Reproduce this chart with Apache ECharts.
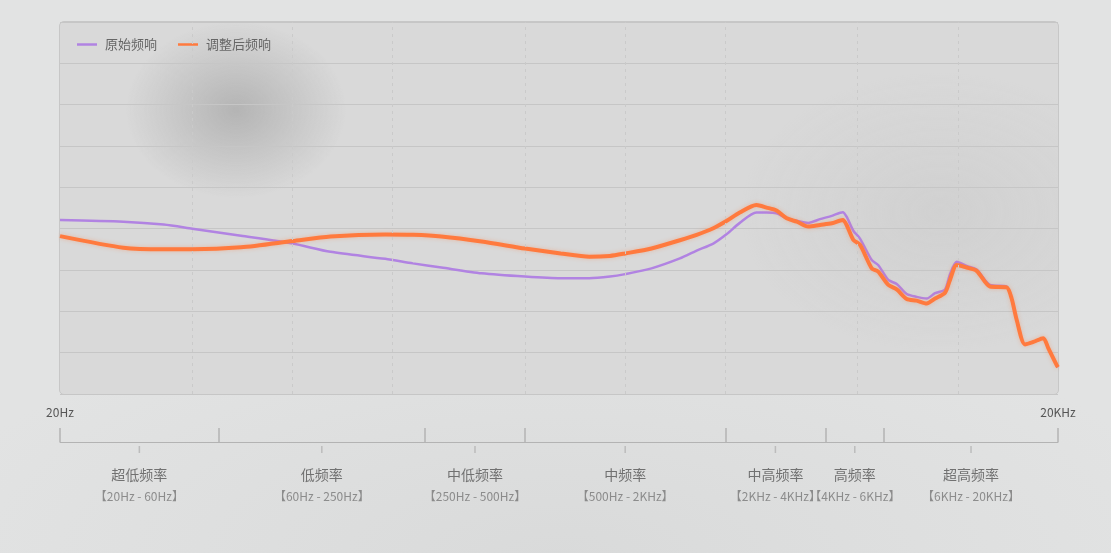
<!DOCTYPE html>
<html lang="zh-CN">
<head>
    <meta charset="UTF-8">
    <title>频响曲线</title>
    <style>
        html, body { margin: 0; padding: 0; background: #e1e2e2; }
        .wrap {
            position: relative; width: 1111px; height: 553px; overflow: hidden;
            background: radial-gradient(ellipse 650px 260px at 560px 560px, #d9dada, rgba(217,218,218,0)), #e2e3e3;
        }
        .panel {
            position: absolute; left: 59px; top: 21px; width: 998px; height: 372px;
            border: 1px solid #c7c7c7; border-radius: 5px; background: #d9d9d9;
        }
        .smudge {
            position: absolute; left: 60px; top: 22px; width: 998px; height: 372px; border-radius: 5px;
            background:
                radial-gradient(ellipse 110px 88px at 176px 88px, rgba(150,150,150,0.55), rgba(150,150,150,0)),
                radial-gradient(ellipse 200px 140px at 880px 190px, rgba(190,190,190,0.3), rgba(190,190,190,0));
        }
        #main { position: absolute; left: 0; top: 0; width: 1111px; height: 553px; }
    </style>
</head>
<body>
<div class="wrap">
    <div class="panel"></div>
    <div class="smudge"></div>
    <div id="main"></div>
</div>
<script src="https://cdn.jsdelivr.net/npm/echarts@6/dist/echarts.min.js"></script>
<script type="text/javascript">
    // 采样频率 (Hz)
    var freqs = [20, 31, 41, 50, 70, 100, 130, 190, 230, 280, 370, 500, 640, 780, 900, 1000, 1200, 1460, 1640, 1840,
        2020, 2210, 2480, 2660, 2850, 3060, 3280, 3550, 3850, 4180, 4510, 4630, 4850, 5080, 5510, 5760, 6180, 6550,
        7020, 7520, 8060, 8540, 9150, 9470, 9920, 10630, 11390, 12490, 14020, 14510, 15030, 15910, 16850, 18060,
        18700, 19820, 20000];
    // 原始频响
    var origResp = [4.21, 4.17, 4.10, 4.00, 3.83, 3.64, 3.44, 3.27, 3.16, 3.06, 2.92, 2.84, 2.80, 2.80, 2.84, 2.90,
        3.04, 3.28, 3.47, 3.64, 3.87, 4.14, 4.39, 4.39, 4.37, 4.25, 4.19, 4.14, 4.23, 4.31, 4.40, 4.29, 3.95, 3.76,
        3.24, 3.12, 2.76, 2.66, 2.42, 2.35, 2.31, 2.44, 2.53, 2.90, 3.20, 3.10, 3.01, 2.64, 2.60, 2.31, 1.79, 1.20,
        1.26, 1.35, 1.11, 0.70, 0.65];
    // 调整后频响
    var adjResp = [3.82, 3.54, 3.50, 3.50, 3.55, 3.70, 3.81, 3.86, 3.85, 3.81, 3.69, 3.52, 3.40, 3.32, 3.34, 3.40,
        3.52, 3.72, 3.85, 4.01, 4.19, 4.39, 4.57, 4.51, 4.44, 4.25, 4.17, 4.05, 4.09, 4.13, 4.21, 4.09, 3.73, 3.61,
        3.04, 2.96, 2.64, 2.53, 2.30, 2.26, 2.19, 2.31, 2.45, 2.76, 3.12, 3.06, 2.98, 2.60, 2.58, 2.31, 1.79, 1.20,
        1.26, 1.35, 1.11, 0.70, 0.65];
    // 图中虚线竖线
    var gridFreqs = [50, 100, 200, 500, 1000, 2000, 5000, 10000];
    // 频段
    var bandNames = ['超低频率', '低频率', '中低频率', '中频率', '中高频率', '高频率', '超高频率'];
    var bandRanges = ['【20Hz - 60Hz】', '【60Hz - 250Hz】', '【250Hz - 500Hz】', '【500Hz - 2KHz】',
        '【2KHz - 4KHz】', '【4KHz - 6KHz】', '【6KHz - 20KHz】'];
    var bandEdges = [20, 60, 250, 500, 2000, 4000, 6000, 20000];

    var myChart = echarts.init(document.getElementById('main'));

    var bandPoints = [];
    for (var i = 0; i < bandNames.length; i++) {
        bandPoints.push({
            value: [Math.sqrt(bandEdges[i] * bandEdges[i + 1]), 0],
            name: bandNames[i],
            range: bandRanges[i]
        });
    }

    var option = {
        textStyle: { fontFamily: 'Noto Sans CJK SC' },
        animation: false,
        legend: {
            left: 77,
            top: 38,
            padding: 0,
            itemWidth: 20,
            itemHeight: 2.5,
            itemGap: 21,
            textStyle: { color: '#666', fontSize: 13, padding: [0, 0, 0, 3] },
            data: [
                { name: '原始频响', icon: 'rect' },
                { name: '调整后频响', icon: 'rect' }
            ]
        },
        grid: [
            { left: 60, top: 22, width: 998, height: 372 },
            { left: 60, top: 428, width: 998, height: 14 }
        ],
        xAxis: [
            {
                type: 'log', logBase: 10, min: 20, max: 20000, gridIndex: 0,
                axisLine: { show: false }, axisTick: { show: false }, splitLine: { show: false },
                axisLabel: {
                    showMinLabel: true, showMaxLabel: true, margin: 12,
                    color: '#555', fontSize: 12,
                    formatter: function (v) {
                        if (Math.abs(v - 20) < 1) return '20Hz';
                        if (Math.abs(v - 20000) < 10) return '20KHz';
                        return '';
                    }
                }
            },
            {
                type: 'log', logBase: 10, min: 20, max: 20000, gridIndex: 1,
                axisLine: { show: true, lineStyle: { color: '#b3b3b3', width: 1 } },
                axisTick: { show: false }, axisLabel: { show: false }, splitLine: { show: false }
            }
        ],
        yAxis: [
            {
                type: 'value', min: 0, max: 9, interval: 1, gridIndex: 0,
                axisLine: { show: false }, axisTick: { show: false }, axisLabel: { show: false },
                splitLine: { lineStyle: { color: '#c6c6c6', width: 1 } }
            },
            {
                type: 'value', min: 0, max: 1, gridIndex: 1, show: false
            }
        ],
        series: [
            {
                name: '原始频响',
                type: 'line',
                symbol: 'none',
                smooth: 0.25,
                color: '#b183e2',
                lineStyle: { width: 2.5, color: '#b183e2' },
                data: freqs.map(function (f, i) { return [f, origResp[i]]; }),
                markLine: {
                    silent: true,
                    symbol: 'none',
                    label: { show: false },
                    lineStyle: { type: [3, 4], color: '#cacaca', width: 1 },
                    data: gridFreqs.map(function (f) { return { xAxis: f }; })
                },
                z: 3
            },
            {
                name: '调整后频响',
                type: 'line',
                symbol: 'none',
                smooth: 0.25,
                color: '#ff7a3e',
                lineStyle: {
                    width: 4, color: '#ff7a3e',
                    shadowColor: 'rgba(255,122,62,0.35)', shadowBlur: 4
                },
                data: freqs.map(function (f, i) { return [f, adjResp[i]]; }),
                z: 4
            },
            {
                // 频段刻度 + 文字
                type: 'scatter',
                xAxisIndex: 1,
                yAxisIndex: 1,
                symbol: 'rect',
                symbolSize: [1.5, 7],
                symbolOffset: [0, 7.5],
                itemStyle: { color: '#b3b3b3' },
                silent: true,
                data: bandPoints,
                label: {
                    show: true,
                    position: 'inside',
                    offset: [0, 36],
                    formatter: function (p) {
                        return '{n|' + p.data.name + '}\n{r|' + p.data.range + '}';
                    },
                    rich: {
                        n: { fontSize: 14, color: '#555', lineHeight: 22, align: 'center' },
                        r: { fontSize: 12, color: '#777', lineHeight: 22, align: 'center' }
                    }
                },
                markLine: {
                    silent: true,
                    symbol: 'none',
                    label: { show: false },
                    lineStyle: { type: 'solid', color: '#b3b3b3', width: 1.5 },
                    data: bandEdges.map(function (f) { return { xAxis: f }; })
                }
            }
        ]
    };

    myChart.setOption(option);
</script>
</body>
</html>
